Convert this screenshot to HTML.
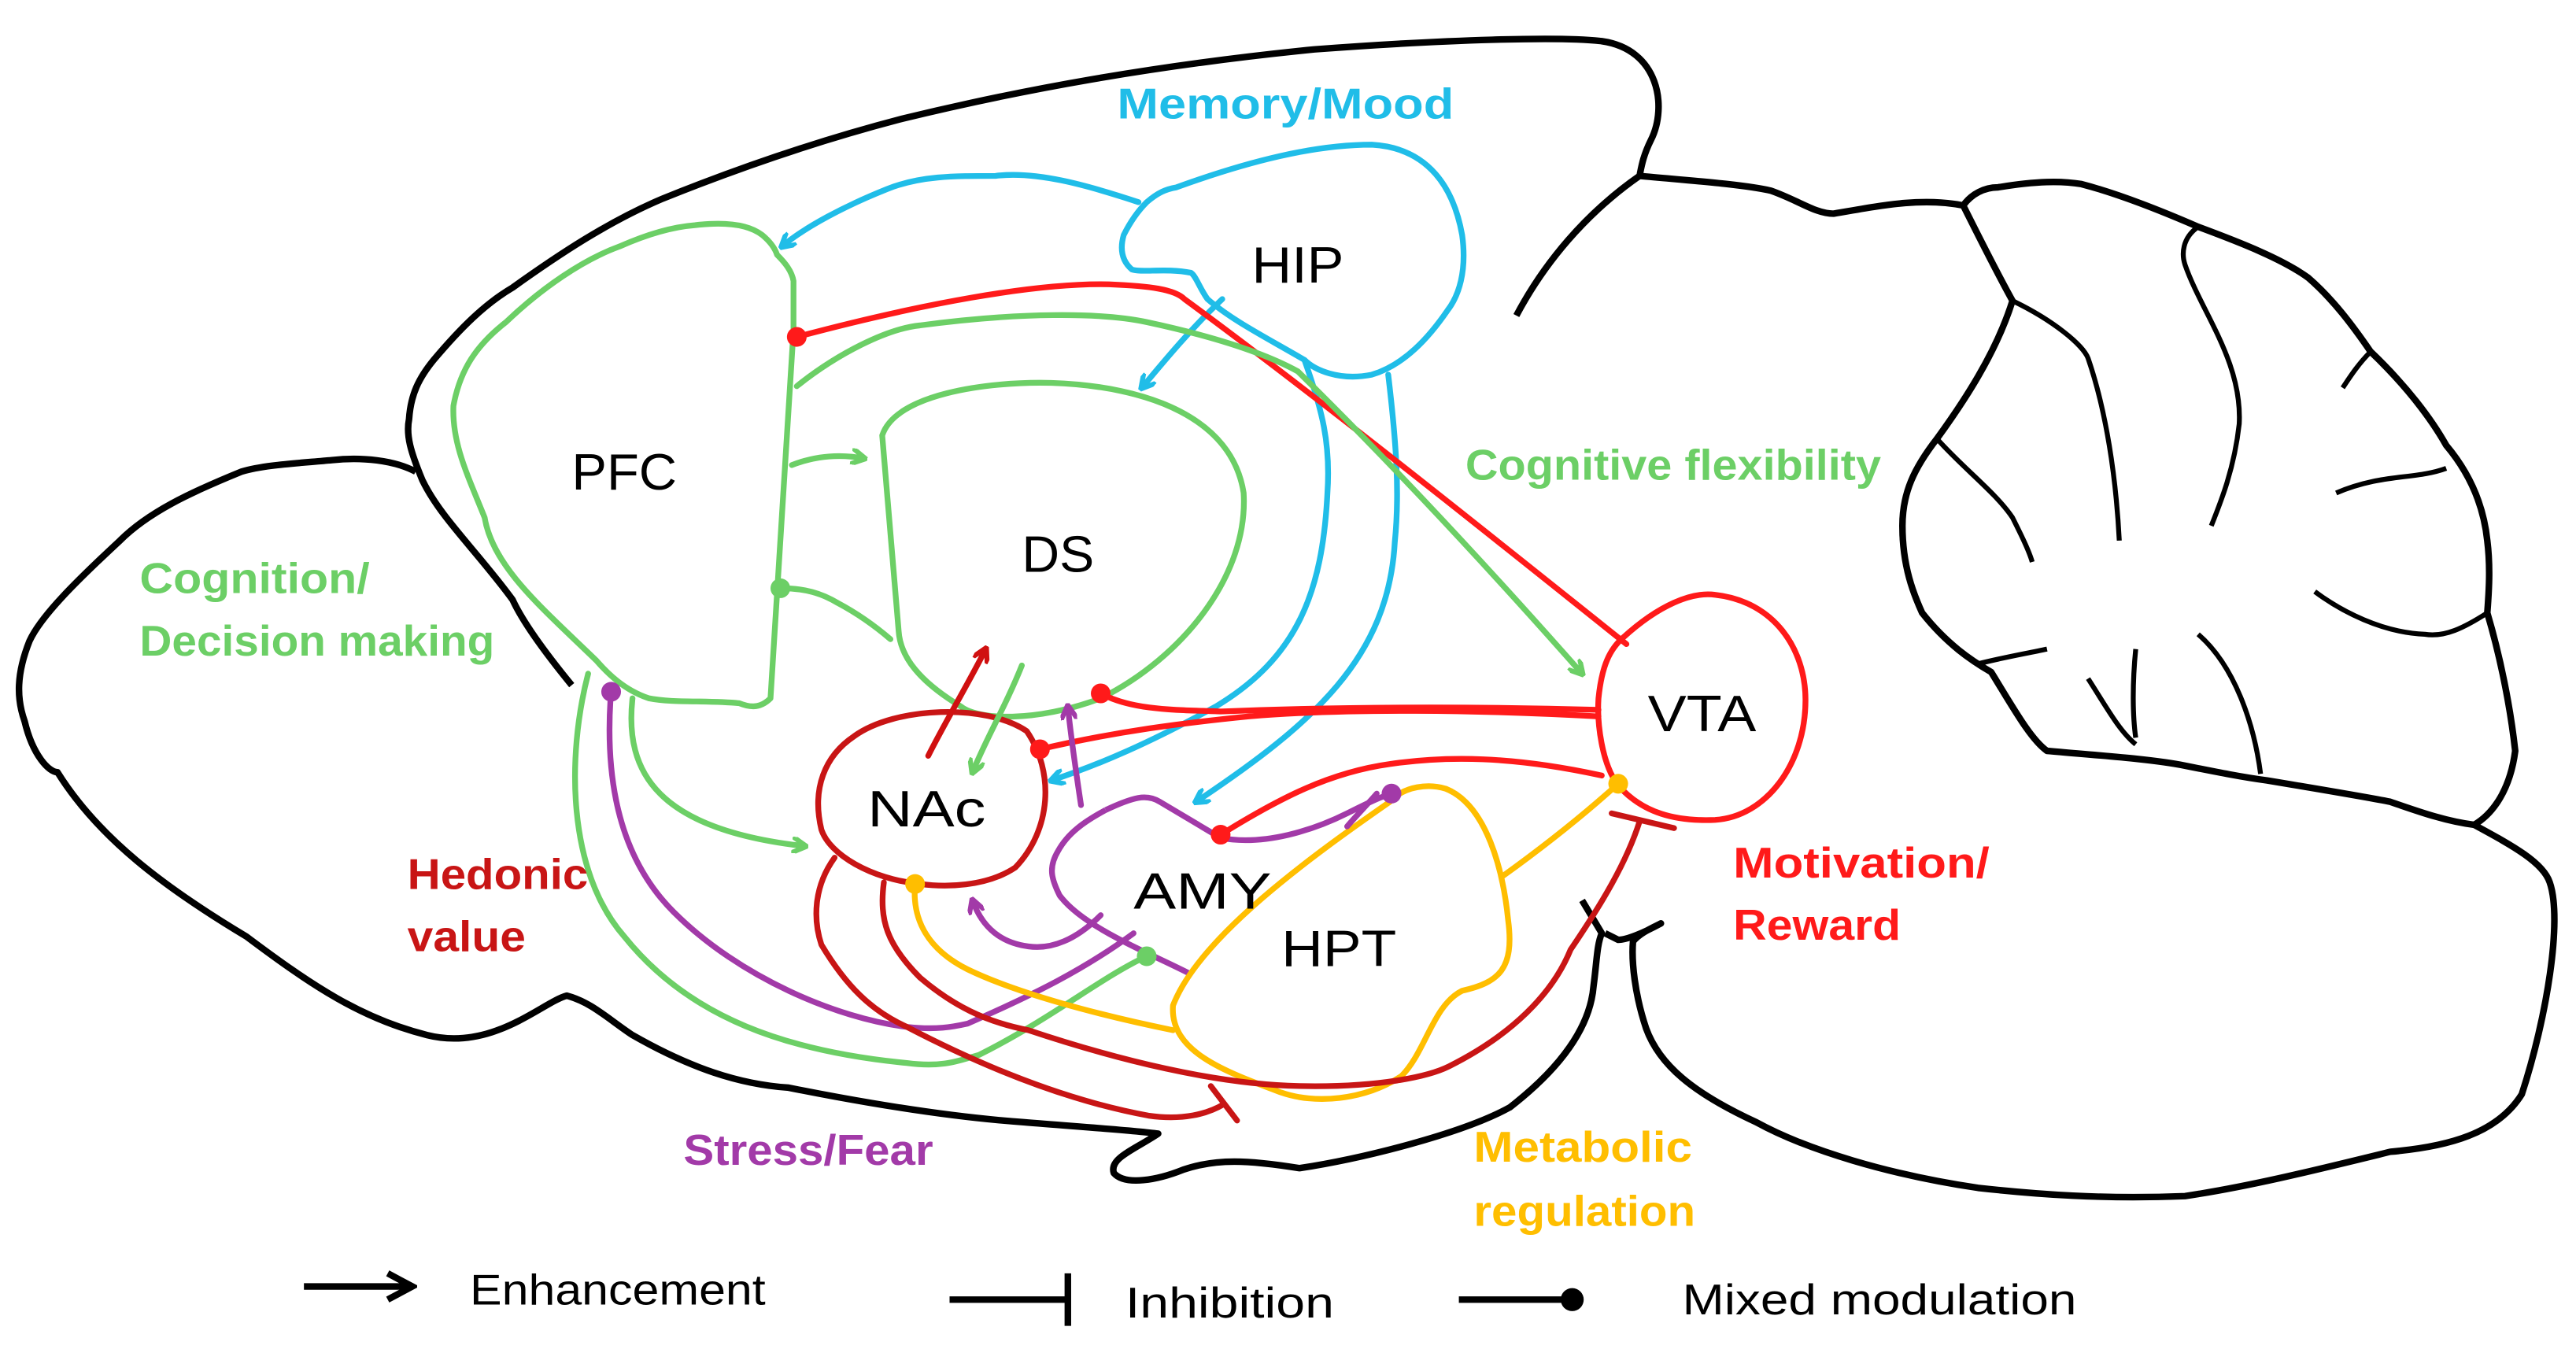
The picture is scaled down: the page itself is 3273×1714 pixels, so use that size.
<!DOCTYPE html>
<html><head><meta charset="utf-8"><style>html,body{margin:0;padding:0;background:#fff}svg{display:block}</style></head>
<body>
<svg width="3273" height="1714" viewBox="0 0 1568 821" xmlns="http://www.w3.org/2000/svg" font-family="Liberation Sans, sans-serif">
<defs>
<marker id="ag" markerWidth="10" markerHeight="10" refX="8" refY="5" orient="auto" markerUnits="userSpaceOnUse"><path d="M0,0 L9,5 L0,10" fill="none" stroke="#6ccf66" stroke-width="3"/></marker>
<marker id="ac" markerWidth="10" markerHeight="10" refX="8" refY="5" orient="auto" markerUnits="userSpaceOnUse"><path d="M0,0 L9,5 L0,10" fill="none" stroke="#20bde8" stroke-width="3"/></marker>
<marker id="ar" markerWidth="10" markerHeight="10" refX="8" refY="5" orient="auto" markerUnits="userSpaceOnUse"><path d="M0,0 L9,5 L0,10" fill="none" stroke="#d01010" stroke-width="3"/></marker>
<marker id="ap" markerWidth="10" markerHeight="10" refX="8" refY="5" orient="auto" markerUnits="userSpaceOnUse"><path d="M0,0 L9,5 L0,10" fill="none" stroke="#a23aa8" stroke-width="3"/></marker>
<marker id="ak" markerWidth="20" markerHeight="20" refX="16" refY="10" orient="auto" markerUnits="userSpaceOnUse"><path d="M2,2 L17,10 L2,18" fill="none" stroke="#000" stroke-width="4"/></marker>
</defs>
<g fill="none" stroke="#000" stroke-width="4" stroke-linejoin="round">
<!-- cortex front + top -->
<path d="M348,417 C330,395 318,378 312,365 C290,335 268,315 257,292 C250,275 247,265 249,255 C250,240 255,230 264,219 C280,200 295,185 312,175 C340,155 370,135 403,121 C450,102 500,85 550,72 C620,55 700,40 800,30 C880,24 950,22 975,25 C1010,30 1015,65 1005,85 C1000,95 999,102 998,107"/>
<!-- olfactory bulb + ventral -->
<path d="M253,287 C240,280 220,278 202,280 C180,282 160,283 147,287 C115,300 90,312 73,329 C45,355 25,375 18,390 C10,410 10,425 15,439 C20,460 30,470 35,470 C60,510 100,540 150,570 C190,600 220,620 260,630 C300,640 330,610 345,606 C360,610 370,620 385,630 C420,650 450,660 480,662 C530,672 580,680 623,683 C660,686 690,688 705,690 C690,700 675,705 678,714 C685,722 705,718 720,712 C740,705 760,706 791,711 C830,705 890,690 919,674 C950,650 968,625 970,600 C972,585 972,575 975,568 L963,548"/>
<!-- midbrain -->
<path d="M923,192 C940,160 965,130 998,107 C1030,110 1060,112 1078,116 C1095,122 1105,130 1116,130 C1145,125 1170,120 1195,125"/>
<!-- cerebellum outer -->
<path d="M1195,125 C1200,118 1208,114 1216,114 C1240,110 1255,110 1267,112 C1290,118 1315,128 1338,138 C1365,148 1390,158 1405,169 C1420,182 1432,198 1443,214 C1465,235 1480,255 1489,271 C1505,290 1512,310 1514,329 C1516,345 1515,360 1514,373 C1522,400 1528,430 1531,457 C1528,480 1518,495 1506,502"/>
<!-- brainstem -->
<path d="M1506,502 C1530,515 1548,525 1552,537 C1560,560 1550,620 1535,666 C1520,690 1490,698 1455,701 C1410,712 1370,722 1330,728 C1280,730 1240,727 1204,723 C1150,715 1100,700 1069,683 C1030,665 1010,648 1002,626 C995,605 993,585 994,573 C998,568 1005,565 1011,562 C1000,568 990,572 985,572 L977,568"/>
<!-- cerebellum inner lobule -->
<path d="M1195,125 C1205,145 1215,165 1225,183 C1215,215 1195,245 1179,267 C1165,285 1158,300 1158,320 C1158,345 1165,362 1170,373 C1185,392 1200,402 1212,409 C1225,430 1236,450 1246,457 C1280,460 1310,462 1330,466 C1350,470 1365,473 1380,475 C1410,480 1440,485 1455,488 C1475,495 1490,500 1506,502"/>
<g stroke-width="3">
<path d="M1225,183 C1250,195 1268,210 1271,218 C1282,250 1288,290 1290,329"/>
<path d="M1179,267 C1195,285 1215,300 1225,315 C1230,325 1235,335 1237,342"/>
<path d="M1338,138 C1328,145 1328,155 1330,161 C1340,190 1365,220 1363,258 C1360,285 1352,305 1346,320"/>
<path d="M1443,214 C1435,222 1430,230 1426,236"/>
<path d="M1489,285 C1470,292 1450,288 1422,300"/>
<path d="M1514,373 C1500,382 1488,388 1476,386 C1450,385 1425,372 1409,360"/>
<path d="M1204,404 C1220,400 1232,398 1246,395"/>
<path d="M1300,395 C1298,415 1298,435 1300,449"/>
<path d="M1338,386 C1360,405 1372,440 1376,471"/>
<path d="M1271,413 C1282,430 1290,445 1300,453"/>
</g>
</g>
<!-- nodes -->
<g fill="none" stroke-width="3.5" stroke-linejoin="round">
<path d="M423,137 C440,135 455,136 464,143 C470,148 472,152 473,155 C478,160 482,165 483,171 L483,201 L469,425 C462,432 455,430 450,428 C430,426 410,428 395,425 C380,420 370,410 363,402 C330,370 300,345 295,315 C285,290 275,270 276,247 C280,225 290,210 308,196 C330,175 355,158 377,150 C395,142 410,138 423,137 Z" stroke="#6ccf66"/>
<path d="M537,265 C545,240 600,232 640,233 C700,235 750,255 757,300 C760,350 720,400 670,425 C630,440 595,438 585,430 C560,415 548,400 547,384 Z" stroke="#6ccf66"/>
<path d="M698,123 C705,117 710,115 716,114 C760,98 800,88 835,88 C870,90 885,115 890,143 C893,165 888,180 881,189 C870,205 855,222 835,228 C815,232 800,225 794,219 C770,205 750,195 735,182 C730,175 728,168 725,166 C710,163 695,166 689,164 C682,158 682,150 684,143 C688,135 693,128 698,123 Z" stroke="#20bde8"/>
<path d="M520,448 C545,430 600,428 625,445 C642,470 640,505 618,528 C600,540 575,540 560,538 C530,535 505,520 500,505 C494,480 502,460 520,448 Z" stroke="#c81515"/>
<path d="M673,493 C660,500 650,507 644,518 C638,528 640,535 645,545 C660,565 700,580 725,593" stroke="#a23aa8"/>
<path d="M673,493 C690,485 698,483 706,488 L743,510" stroke="#a23aa8"/>
<path d="M846,488 C855,478 870,477 880,480 C905,490 915,530 918,560 C922,590 912,598 890,603 C872,612 868,640 853,655 C830,670 800,672 780,665 C745,652 712,640 714,612 C730,570 800,520 846,488 Z" stroke="#ffbe00"/>
<path d="M988,388 C1010,368 1030,360 1044,362 C1080,366 1099,395 1099,426 C1099,465 1075,497 1044,499 C1020,500 1000,495 985,478 C975,465 972,440 973,425 C975,405 980,395 988,388 Z" stroke="#ff1a1a"/>
</g>
<!-- connectors -->
<g fill="none" stroke-width="3.5" stroke-linecap="round">
<path d="M693,123 C660,112 630,104 606,107 C580,107 560,107 540,115 C515,125 490,138 476,150" stroke="#20bde8" marker-end="url(#ac)"/>
<path d="M744,182 C725,200 710,218 695,236" stroke="#20bde8" marker-end="url(#ac)"/>
<path d="M794,219 C805,250 810,270 808,300 C805,360 790,400 740,430 C700,452 670,465 640,475" stroke="#20bde8" marker-end="url(#ac)"/>
<path d="M845,228 C850,270 852,300 849,330 C845,400 800,440 728,488" stroke="#20bde8" marker-end="url(#ac)"/>
<path d="M485,205 C560,185 630,172 675,173 C700,174 715,176 721,182 C800,240 900,320 990,392" stroke="#ff1a1a"/>
<path d="M485,235 C510,215 540,200 560,198 C620,190 670,190 698,196 C740,205 770,215 790,226 C850,285 910,350 963,410" stroke="#6ccf66" marker-end="url(#ag)"/>
<path d="M482,283 C495,278 510,276 526,279" stroke="#6ccf66" marker-end="url(#ag)"/>
<path d="M475,358 C490,358 500,361 510,367 C525,375 535,383 542,389" stroke="#6ccf66"/>
<path d="M385,425 C380,470 400,505 490,515" stroke="#6ccf66" marker-end="url(#ag)"/>
<path d="M358,410 C345,460 345,530 380,570 C420,620 480,640 552,647 C575,650 585,645 596,642 C640,620 670,595 698,582" stroke="#6ccf66"/>
<path d="M372,420 C368,470 375,520 410,555 C450,595 510,620 552,625 C570,627 580,625 589,623 C630,605 660,590 690,568" stroke="#a23aa8"/>
<path d="M622,405 C612,430 600,450 592,470" stroke="#6ccf66" marker-end="url(#ag)"/>
<path d="M565,460 C575,440 590,415 600,395" stroke="#d01010" marker-end="url(#ar)"/>
<path d="M670,422 C690,433 720,432 743,433 C820,430 900,430 973,432" stroke="#ff1a1a"/>
<path d="M633,456 C680,445 720,440 760,436 C820,431 900,432 973,436" stroke="#ff1a1a"/>
<path d="M743,508 C780,485 810,470 846,465 C880,460 920,460 975,472" stroke="#ff1a1a"/>
<path d="M658,490 C655,470 652,450 650,430" stroke="#a23aa8" marker-end="url(#ap)"/>
<path d="M670,557 C655,572 640,578 626,576 C610,574 598,565 592,548" stroke="#a23aa8" marker-end="url(#ap)"/>
<path d="M743,510 C770,515 800,505 820,495 C830,490 840,485 847,483" stroke="#a23aa8"/>
<path d="M820,503 C825,497 832,490 838,483" stroke="#a23aa8"/>
<path d="M557,538 C555,560 565,578 589,590 C620,605 670,618 714,627" stroke="#ffbe00"/>
<path d="M915,533 C940,515 965,495 985,477" stroke="#ffbe00"/>
<path d="M538,537 C535,560 540,575 560,595 C580,612 600,622 626,627 C680,645 740,660 791,661 C840,662 870,655 882,649 C920,630 945,605 956,578 C975,550 990,525 998,500" stroke="#c81515"/>
<path d="M508,522 C495,540 495,560 500,575 C515,600 530,615 552,625 C600,650 650,670 699,679 C720,682 735,678 745,672" stroke="#c81515"/>
<path d="M981,495 L1019,504 M737,661 L753,682" stroke="#c81515"/>
</g>
<g>
<circle cx="485" cy="205" r="6" fill="#ff1a1a"/>
<circle cx="475" cy="358" r="6" fill="#6ccf66"/>
<circle cx="372" cy="421" r="6" fill="#a23aa8"/>
<circle cx="670" cy="422" r="6" fill="#ff1a1a"/>
<circle cx="633" cy="456" r="6" fill="#ff1a1a"/>
<circle cx="743" cy="508" r="6" fill="#ff1a1a"/>
<circle cx="847" cy="483" r="6" fill="#a23aa8"/>
<circle cx="557" cy="538" r="6" fill="#ffbe00"/>
<circle cx="985" cy="477" r="6" fill="#ffbe00"/>
<circle cx="698" cy="582" r="6" fill="#6ccf66"/>
</g>
<g font-size="31" fill="#000">
<text x="348" y="298" textLength="64" lengthAdjust="spacingAndGlyphs">PFC</text>
<text x="622" y="348" textLength="44" lengthAdjust="spacingAndGlyphs">DS</text>
<text x="762" y="172" textLength="56" lengthAdjust="spacingAndGlyphs">HIP</text>
<text x="528" y="503" textLength="72" lengthAdjust="spacingAndGlyphs">NAc</text>
<text x="690" y="553" textLength="84" lengthAdjust="spacingAndGlyphs">AMY</text>
<text x="780" y="588" textLength="70" lengthAdjust="spacingAndGlyphs">HPT</text>
<text x="1003" y="445" textLength="66" lengthAdjust="spacingAndGlyphs">VTA</text>
</g>
<g font-size="26" font-weight="bold">
<text x="680" y="72" fill="#20bde8" textLength="205" lengthAdjust="spacingAndGlyphs">Memory/Mood</text>
<text x="892" y="292" fill="#6ccf66" textLength="253" lengthAdjust="spacingAndGlyphs">Cognitive flexibility</text>
<text x="85" y="361" fill="#6ccf66" textLength="140" lengthAdjust="spacingAndGlyphs">Cognition/</text>
<text x="85" y="399" fill="#6ccf66" textLength="216" lengthAdjust="spacingAndGlyphs">Decision making</text>
<text x="248" y="541" fill="#c81515" textLength="110" lengthAdjust="spacingAndGlyphs">Hedonic</text>
<text x="248" y="579" fill="#c81515" textLength="72" lengthAdjust="spacingAndGlyphs">value</text>
<text x="1055" y="534" fill="#ff1a1a" textLength="156" lengthAdjust="spacingAndGlyphs">Motivation/</text>
<text x="1055" y="572" fill="#ff1a1a" textLength="102" lengthAdjust="spacingAndGlyphs">Reward</text>
<text x="416" y="709" fill="#a23aa8" textLength="152" lengthAdjust="spacingAndGlyphs">Stress/Fear</text>
<text x="897" y="707" fill="#ffbe00" textLength="133" lengthAdjust="spacingAndGlyphs">Metabolic</text>
<text x="897" y="746" fill="#ffbe00" textLength="135" lengthAdjust="spacingAndGlyphs">regulation</text>
</g>
<g stroke="#000" stroke-width="4" fill="none">
<path d="M185,783 L250,783" marker-end="url(#ak)"/>
<path d="M578,791 L650,791 M650,775 L650,807"/>
<path d="M888,791 L955,791"/>
</g>
<circle cx="957" cy="791" r="7" fill="#000"/>
<g font-size="26" fill="#000">
<text x="286" y="794" textLength="180" lengthAdjust="spacingAndGlyphs">Enhancement</text>
<text x="685" y="802" textLength="127" lengthAdjust="spacingAndGlyphs">Inhibition</text>
<text x="1024" y="800" textLength="240" lengthAdjust="spacingAndGlyphs">Mixed modulation</text>
</g>
</svg>
</body></html>
